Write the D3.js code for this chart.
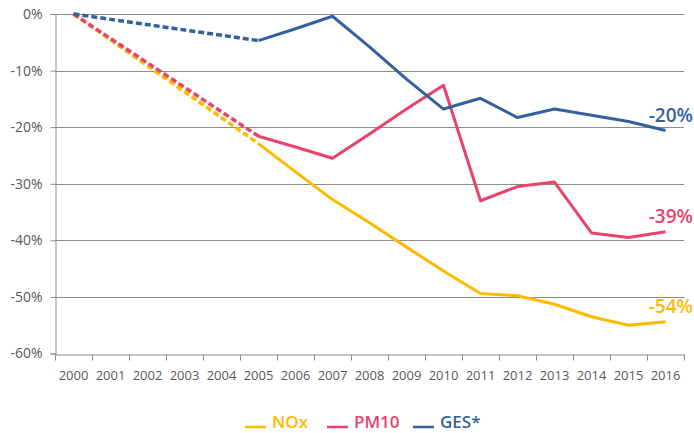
<!DOCTYPE html>
<html>
<head>
<meta charset="utf-8">
<script src="https://cdn.jsdelivr.net/npm/d3@7"></script>
<style>
body { margin: 0; background: #fff; }
text { font-family: "Open Sans", "DejaVu Sans", sans-serif; }
</style>
</head>
<body>
<div id="chart"></div>
<script>
// data
var years = ["2000","2001","2002","2003","2004","2005","2006","2007","2008","2009","2010","2011","2012","2013","2014","2015","2016"];
var nox  = [0, null, null, null, null, -22.9, -27.9, -32.8, -36.9, -41.2, -45.4, -49.4, -49.8, -51.3, -53.5, -55.0, -54.4];
var pm10 = [0, null, null, null, null, -21.6, -23.5, -25.5, -21.2, -16.8, -12.6, -33.0, -30.5, -29.7, -38.7, -39.5, -38.5];
var ges  = [0, null, null, null, null, -4.7, -2.6, -0.4, -5.8, -11.5, -16.8, -14.9, -18.3, -16.8, -17.9, -19.0, -20.6];
var yTicks = [0, -10, -20, -30, -40, -50, -60];
var seriesNames = ["NOx", "PM10", "GES*"];
var endLabels = ["-54%", "-39%", "-20%"];
var colors = ["#FFBA00", "#E8436A", "#33619F"];
var dashedUntil = "2005";

var width = 694, height = 433;
var margin = {top: 14, right: 10, bottom: 80, left: 55};

var svg = d3.select("#chart").append("svg")
	.attr("width", width).attr("height", height);

var x = d3.scaleBand().domain(years).range([margin.left, 684]);
var y = d3.scaleLinear().domain([-60, 0]).range([353.5, 14]);

function cx(d) { return x(d) + x.bandwidth() / 2; }

// gridlines
svg.append("g").selectAll("line")
	.data(yTicks.filter(function(t){ return t > -60; }))
	.enter().append("line")
	.attr("x1", margin.left).attr("x2", 684)
	.attr("y1", function(d){ return Math.round(y(d)) + 0.5; })
	.attr("y2", function(d){ return Math.round(y(d)) + 0.5; })
	.attr("stroke", "#8c8c8c").attr("stroke-width", 1);

// y axis
var yAxis = svg.append("g")
	.attr("transform", "translate(" + (margin.left + 0.5) + ",0)")
	.call(d3.axisLeft(y).tickValues(yTicks).tickSize(5).tickPadding(8)
		.tickFormat(function(d){ return d + "%"; }));
yAxis.select(".domain").attr("stroke", "#8c8c8c");
yAxis.selectAll(".tick line").attr("stroke", "#8c8c8c");
yAxis.selectAll("text").attr("fill", "#595959").style("font-size", "14px")
	.style("font-family", "'Open Sans', sans-serif");

// x axis
var xAxis = svg.append("g")
	.attr("transform", "translate(0," + (Math.round(y(-60)) + 0.5) + ")")
	.call(d3.axisBottom(x).tickSize(0).tickPadding(16));
xAxis.select(".domain").attr("stroke", "#8c8c8c");
xAxis.selectAll("text").attr("fill", "#595959").style("font-size", "13px")
	.style("font-family", "'Open Sans', sans-serif");
// tick marks at band boundaries
xAxis.append("g").selectAll("line")
	.data(years.concat(["end"]))
	.enter().append("line")
	.attr("x1", function(d, i){ return Math.round(margin.left + i * x.step()) + 0.5; })
	.attr("x2", function(d, i){ return Math.round(margin.left + i * x.step()) + 0.5; })
	.attr("y1", 0).attr("y2", 6)
	.attr("stroke", "#8c8c8c");

// lines
var allSeries = [nox, pm10, ges];
var cut = years.indexOf(dashedUntil);
var line = d3.line()
	.defined(function(d){ return d.v !== null; })
	.x(function(d){ return cx(d.year); })
	.y(function(d){ return y(d.v); });

allSeries.forEach(function(vals, s) {
	var pts = years.map(function(yr, i){ return {year: yr, v: vals[i]}; });
	var early = pts.slice(0, cut + 1).filter(function(d){ return d.v !== null; });
	var late = pts.slice(cut);
	svg.append("path").datum(early)
		.attr("d", line)
		.attr("fill", "none")
		.attr("stroke", colors[s])
		.attr("stroke-width", 3.5)
		.attr("stroke-dasharray", "6,3");
	svg.append("path").datum(late)
		.attr("d", line)
		.attr("fill", "none")
		.attr("stroke", colors[s])
		.attr("stroke-width", 3)
		.attr("stroke-linejoin", "round");
	// end label
	var last = vals[vals.length - 1];
	svg.append("text")
		.attr("x", 693)
		.attr("y", y(last) - 9)
		.attr("text-anchor", "end")
		.attr("fill", colors[s])
		.style("font-size", "19px")
		.style("font-weight", "600")
		.text(endLabels[s]);
});

// legend
var legendX = [245, 327, 413];
var leg = svg.append("g");
seriesNames.forEach(function(name, s) {
	leg.append("line")
		.attr("x1", legendX[s]).attr("x2", legendX[s] + 21)
		.attr("y1", 427).attr("y2", 427)
		.attr("stroke", colors[s]).attr("stroke-width", 2.5);
	leg.append("text")
		.attr("x", legendX[s] + 27)
		.attr("y", 428)
		.attr("fill", colors[s])
		.style("font-size", "17px")
		.style("font-weight", "600")
		.text(name);
});
</script>
</body>
</html>
